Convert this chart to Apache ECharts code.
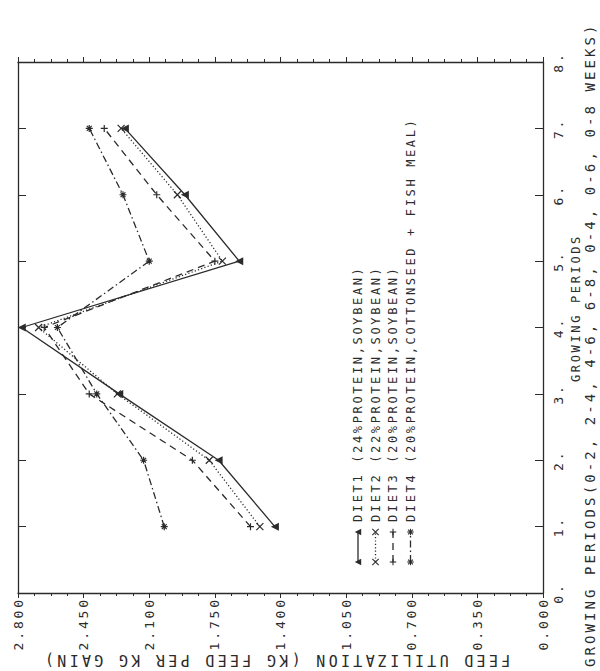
<!DOCTYPE html>
<html><head><meta charset="utf-8">
<script src="https://cdn.jsdelivr.net/npm/echarts@6/dist/echarts.min.js"></script>
<style>
html,body{margin:0;padding:0;background:#fff;}
#c{width:600px;height:671px;}
#c text{letter-spacing:0.22em;}
</style></head><body><div id="c"></div>
<script>
// ---- data ----
const periods = [1, 2, 3, 4, 5, 6, 7];
const diet1 = [1.43, 1.73, 2.26, 2.78, 1.62, 1.91, 2.23];
const diet2 = [1.51, 1.78, 2.27, 2.69, 1.71, 1.95, 2.25];
const diet3 = [1.56, 1.87, 2.42, 2.66, 1.75, 2.06, 2.34];
const diet4 = [2.02, 2.13, 2.38, 2.59, 2.10, 2.24, 2.42];
const feedTickLabels = ['0.000', '0.350', '0.700', '1.050', '1.400', '1.750', '2.100', '2.450', '2.800'];
const periodTickLabels = ['0.', '1.', '2.', '3.', '4.', '5.', '6.', '7.', '8.'];
const legendNames = [
  'DIET1 (24%PROTEIN,SOYBEAN)',
  'DIET2 (22%PROTEIN,SOYBEAN)',
  'DIET3 (20%PROTEIN,SOYBEAN)',
  'DIET4 (20%PROTEIN,COTTONSEED + FISH MEAL)'
];
const xTitle = 'GROWING PERIODS(0-2, 2-4, 4-6, 6-8, 0-4, 0-6, 0-8 WEEKS)';
const xSubTitle = 'GROWING PERIODS';
const yTitle = 'FEED UTILIZATION (KG FEED PER KG GAIN)';

// ---- styles ----
const INK = '#2b2b2b';
const FONT = '"DejaVu Sans Mono", "Liberation Mono", monospace';
const SYM_X = 'path://M0,0L10,10M10,0L0,10';
const SYM_PLUS = 'path://M5,0L5,10M0,5L10,5';
const SYM_STAR = 'path://M5,0L5,10M0,5L10,5M1.5,1.5L8.5,8.5M8.5,1.5L1.5,8.5';

const chart = echarts.init(document.getElementById('c'), null, {renderer: 'svg'});

function mk(vals) { return periods.map((p, i) => [vals[i], p]); }

const seriesDefs = [
  {name: legendNames[0], data: diet1, type: 'solid', symbol: 'triangle', rot: 90, fill: true},
  {name: legendNames[1], data: diet2, type: [1.2, 2.2], symbol: SYM_X, rot: 0},
  {name: legendNames[2], data: diet3, type: [7, 5], symbol: SYM_PLUS, rot: 0},
  {name: legendNames[3], data: diet4, type: [7, 3, 1.5, 3], symbol: SYM_STAR, rot: 0}
];

const series = seriesDefs.map(d => ({
  name: d.name,
  type: 'line',
  data: mk(d.data),
  symbol: d.symbol,
  symbolSize: d.fill ? 8 : 7,
  symbolRotate: d.rot,
  showSymbol: true,
  animation: false,
  lineStyle: {color: INK, width: 1.3, type: d.type},
  itemStyle: {color: d.fill ? INK : 'none', borderColor: INK, borderWidth: d.fill ? 0 : 1.2}
}));

// legend drawn as a rotated group (local coords: sample runs along +x)
function markerEls(kind, cx, cy) {
  const r = 3.2, q = 2.4;
  const ln = (x1, y1, x2, y2) => ({type: 'line', shape: {x1, y1, x2, y2}, style: {stroke: INK, lineWidth: 1.1}});
  if (kind === 0) return [{type: 'polygon', shape: {points: [[cx, cy - r], [cx + r, cy + r], [cx - r, cy + r]]}, style: {fill: INK}}];
  if (kind === 1) return [ln(cx - r, cy - r, cx + r, cy + r), ln(cx + r, cy - r, cx - r, cy + r)];
  if (kind === 2) return [ln(cx - r, cy, cx + r, cy), ln(cx, cy - r, cx, cy + r)];
  return [ln(cx - r, cy, cx + r, cy), ln(cx, cy - r, cx, cy + r), ln(cx - q, cy - q, cx + q, cy + q), ln(cx + q, cy - q, cx - q, cy + q)];
}
const legendChildren = [];
seriesDefs.forEach((d, i) => {
  const ly = i * 17.5;
  const ls = {stroke: INK, lineWidth: 1.3};
  if (d.type !== 'solid') ls.lineDash = d.type;
  legendChildren.push({type: 'line', shape: {x1: 0, y1: ly, x2: 30, y2: ly}, style: ls});
  [0, 30].forEach(cx => markerEls(i, cx, ly).forEach(e => legendChildren.push(e)));
  legendChildren.push({
    type: 'text', x: 40, y: ly,
    style: {text: d.name, font: '12px ' + FONT, fill: INK, align: 'left', verticalAlign: 'middle', textAlign: 'left', textVerticalAlign: 'middle'}
  });
});

const feedAxisCommon = {
  type: 'value', min: 0, max: 2.8, interval: 0.35, inverse: true,
  axisLine: {show: true, onZero: false, lineStyle: {color: INK, width: 1.3}},
  axisTick: {show: true, inside: false, length: 5, lineStyle: {color: INK, width: 1}},
  minorTick: {show: true, splitNumber: 4, length: 3, lineStyle: {color: INK, width: 1}},
  splitLine: {show: false}, minorSplitLine: {show: false}
};
const periodAxisCommon = {
  type: 'value', min: 0, max: 8, interval: 1,
  axisLine: {show: true, onZero: false, lineStyle: {color: INK, width: 1.3}},
  axisTick: {show: true, inside: true, length: 8, lineStyle: {color: INK, width: 1}},
  splitLine: {show: false}
};

chart.setOption({
  backgroundColor: '#ffffff',
  animation: false,
  grid: {left: 18, top: 62, width: 525, height: 531, containLabel: false},
  xAxis: [
    Object.assign({}, feedAxisCommon, {
      position: 'bottom',
      axisLabel: {show: true, rotate: 90, margin: 4, color: INK, fontFamily: FONT, fontSize: 13,
        formatter: v => feedTickLabels[Math.round(v / 0.35)]}
    }),
    Object.assign({}, feedAxisCommon, {position: 'top', axisLabel: {show: false}})
  ],
  yAxis: [
    Object.assign({}, periodAxisCommon, {
      position: 'right',
      axisLabel: {show: true, rotate: 90, margin: 9, color: INK, fontFamily: FONT, fontSize: 13,
        formatter: v => periodTickLabels[Math.round(v)]}
    }),
    Object.assign({}, periodAxisCommon, {position: 'left', axisLabel: {show: false}})
  ],
  series: series,
  graphic: [
    {type: 'group', x: 358, y: 562, rotation: Math.PI / 2, children: legendChildren},
    {type: 'text', x: 590, y: 667, rotation: Math.PI / 2,
      style: {text: xTitle, font: '14px ' + FONT, fill: INK, align: 'left', verticalAlign: 'middle', textAlign: 'left', textVerticalAlign: 'middle'}},
    {type: 'text', x: 576, y: 382, rotation: Math.PI / 2,
      style: {text: xSubTitle, font: '12px ' + FONT, fill: INK, align: 'left', verticalAlign: 'middle', textAlign: 'left', textVerticalAlign: 'middle'}},
    {type: 'text', x: 276, y: 660, rotation: Math.PI,
      style: {text: yTitle, font: '15px ' + FONT, fill: INK, align: 'center', verticalAlign: 'middle', textAlign: 'center', textVerticalAlign: 'middle'}}
  ]
});
</script></body></html>
